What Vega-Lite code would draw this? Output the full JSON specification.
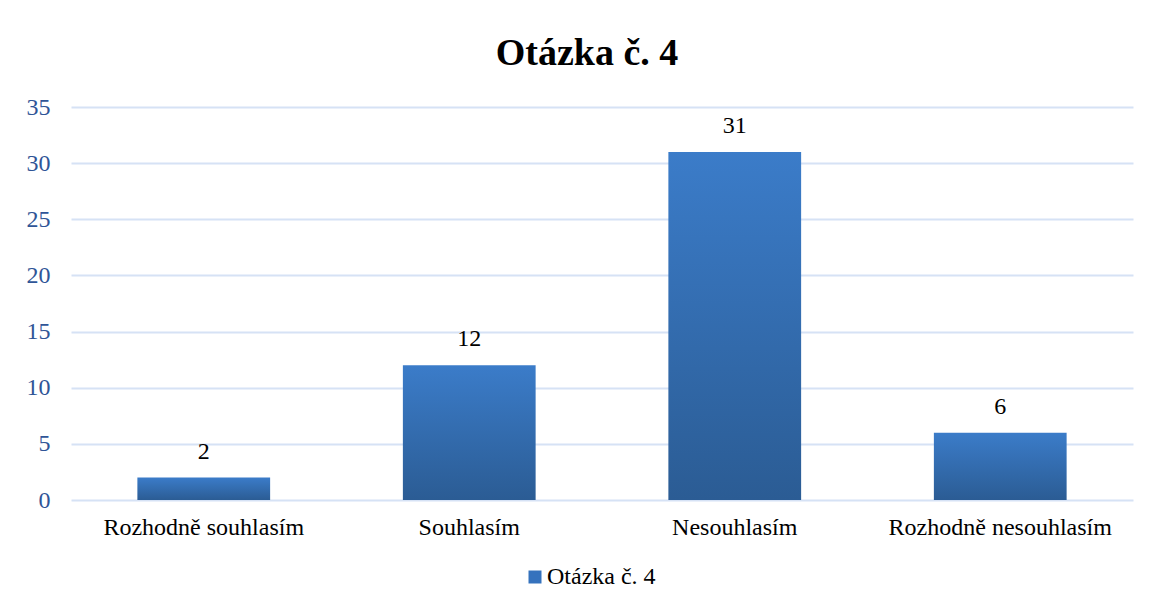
{
  "$schema": "https://vega.github.io/schema/vega-lite/v6.json",
  "width": 1062,
  "height": 393,
  "autosize": "none",
  "padding": {"left": 71, "top": 107, "right": 16, "bottom": 112},
  "background": "white",
  "title": {
    "text": "Otázka č. 4",
    "font": "'Liberation Serif', 'Times New Roman', serif",
    "fontSize": 38,
    "fontWeight": "bold",
    "color": "#000000",
    "anchor": "middle",
    "dx": -15,
    "offset": 22
  },
  "data": {
    "values": [
      {"kategorie": "Rozhodně souhlasím", "pocet": 2, "serie": "Otázka č. 4"},
      {"kategorie": "Souhlasím", "pocet": 12, "serie": "Otázka č. 4"},
      {"kategorie": "Nesouhlasím", "pocet": 31, "serie": "Otázka č. 4"},
      {"kategorie": "Rozhodně nesouhlasím", "pocet": 6, "serie": "Otázka č. 4"}
    ]
  },
  "encoding": {
    "x": {
      "field": "kategorie",
      "type": "nominal",
      "sort": null,
      "scale": {"paddingInner": 0.5, "paddingOuter": 0.25},
      "axis": {
        "title": null,
        "labelAngle": 0,
        "labelLimit": 0,
        "domain": false,
        "ticks": false,
        "labelFont": "'Liberation Serif', 'Times New Roman', serif",
        "labelFontSize": 24,
        "labelColor": "#000000",
        "labelPadding": 15
      }
    },
    "y": {
      "field": "pocet",
      "type": "quantitative",
      "scale": {"domain": [0, 35]},
      "axis": {
        "title": null,
        "values": [0, 5, 10, 15, 20, 25, 30, 35],
        "domain": false,
        "ticks": false,
        "gridColor": "#d6e2f5",
        "gridWidth": 2,
        "labelFont": "'Liberation Serif', 'Times New Roman', serif",
        "labelFontSize": 24,
        "labelColor": "#2F5597",
        "labelPadding": 21
      }
    }
  },
  "layer": [
    {
      "mark": {
        "type": "bar",
        "fill": {
          "gradient": "linear",
          "x1": 0, "y1": 0, "x2": 0, "y2": 1,
          "stops": [
            {"offset": 0, "color": "#3b7cc9"},
            {"offset": 1, "color": "#2b5c94"}
          ]
        }
      }
    },
    {
      "mark": {"type": "point", "filled": true, "opacity": 0, "color": "#3572bd"},
      "encoding": {
        "shape": {
          "field": "serie",
          "type": "nominal",
          "scale": {"range": ["square"]},
          "legend": {
            "title": null,
            "orient": "none",
            "legendX": 452,
            "legendY": 458,
            "symbolType": "square",
            "symbolSize": 169,
            "symbolStrokeWidth": 0,
            "labelFont": "'Liberation Serif', 'Times New Roman', serif",
            "labelFontSize": 24,
            "labelColor": "#000000",
            "labelOffset": 0,
            "labelLimit": 0,
            "encode": {
              "symbols": {
                "update": {
                  "opacity": {"value": 1},
                  "fillOpacity": {"value": 1},
                  "size": {"value": 169},
                  "strokeWidth": {"value": 0},
                  "fill": {"value": {
                    "gradient": "linear",
                    "x1": 0, "y1": 0, "x2": 0, "y2": 1,
                    "stops": [
                      {"offset": 0, "color": "#3b7cc9"},
                      {"offset": 1, "color": "#2b5c94"}
                    ]
                  }}
                }
              }
            }
          }
        }
      }
    },
    {
      "mark": {
        "type": "text",
        "baseline": "bottom",
        "dy": -14,
        "font": "'Liberation Serif', 'Times New Roman', serif",
        "fontSize": 24,
        "color": "#000000"
      },
      "encoding": {"text": {"field": "pocet", "type": "quantitative"}}
    }
  ],
  "config": {"view": {"stroke": null}}
}
